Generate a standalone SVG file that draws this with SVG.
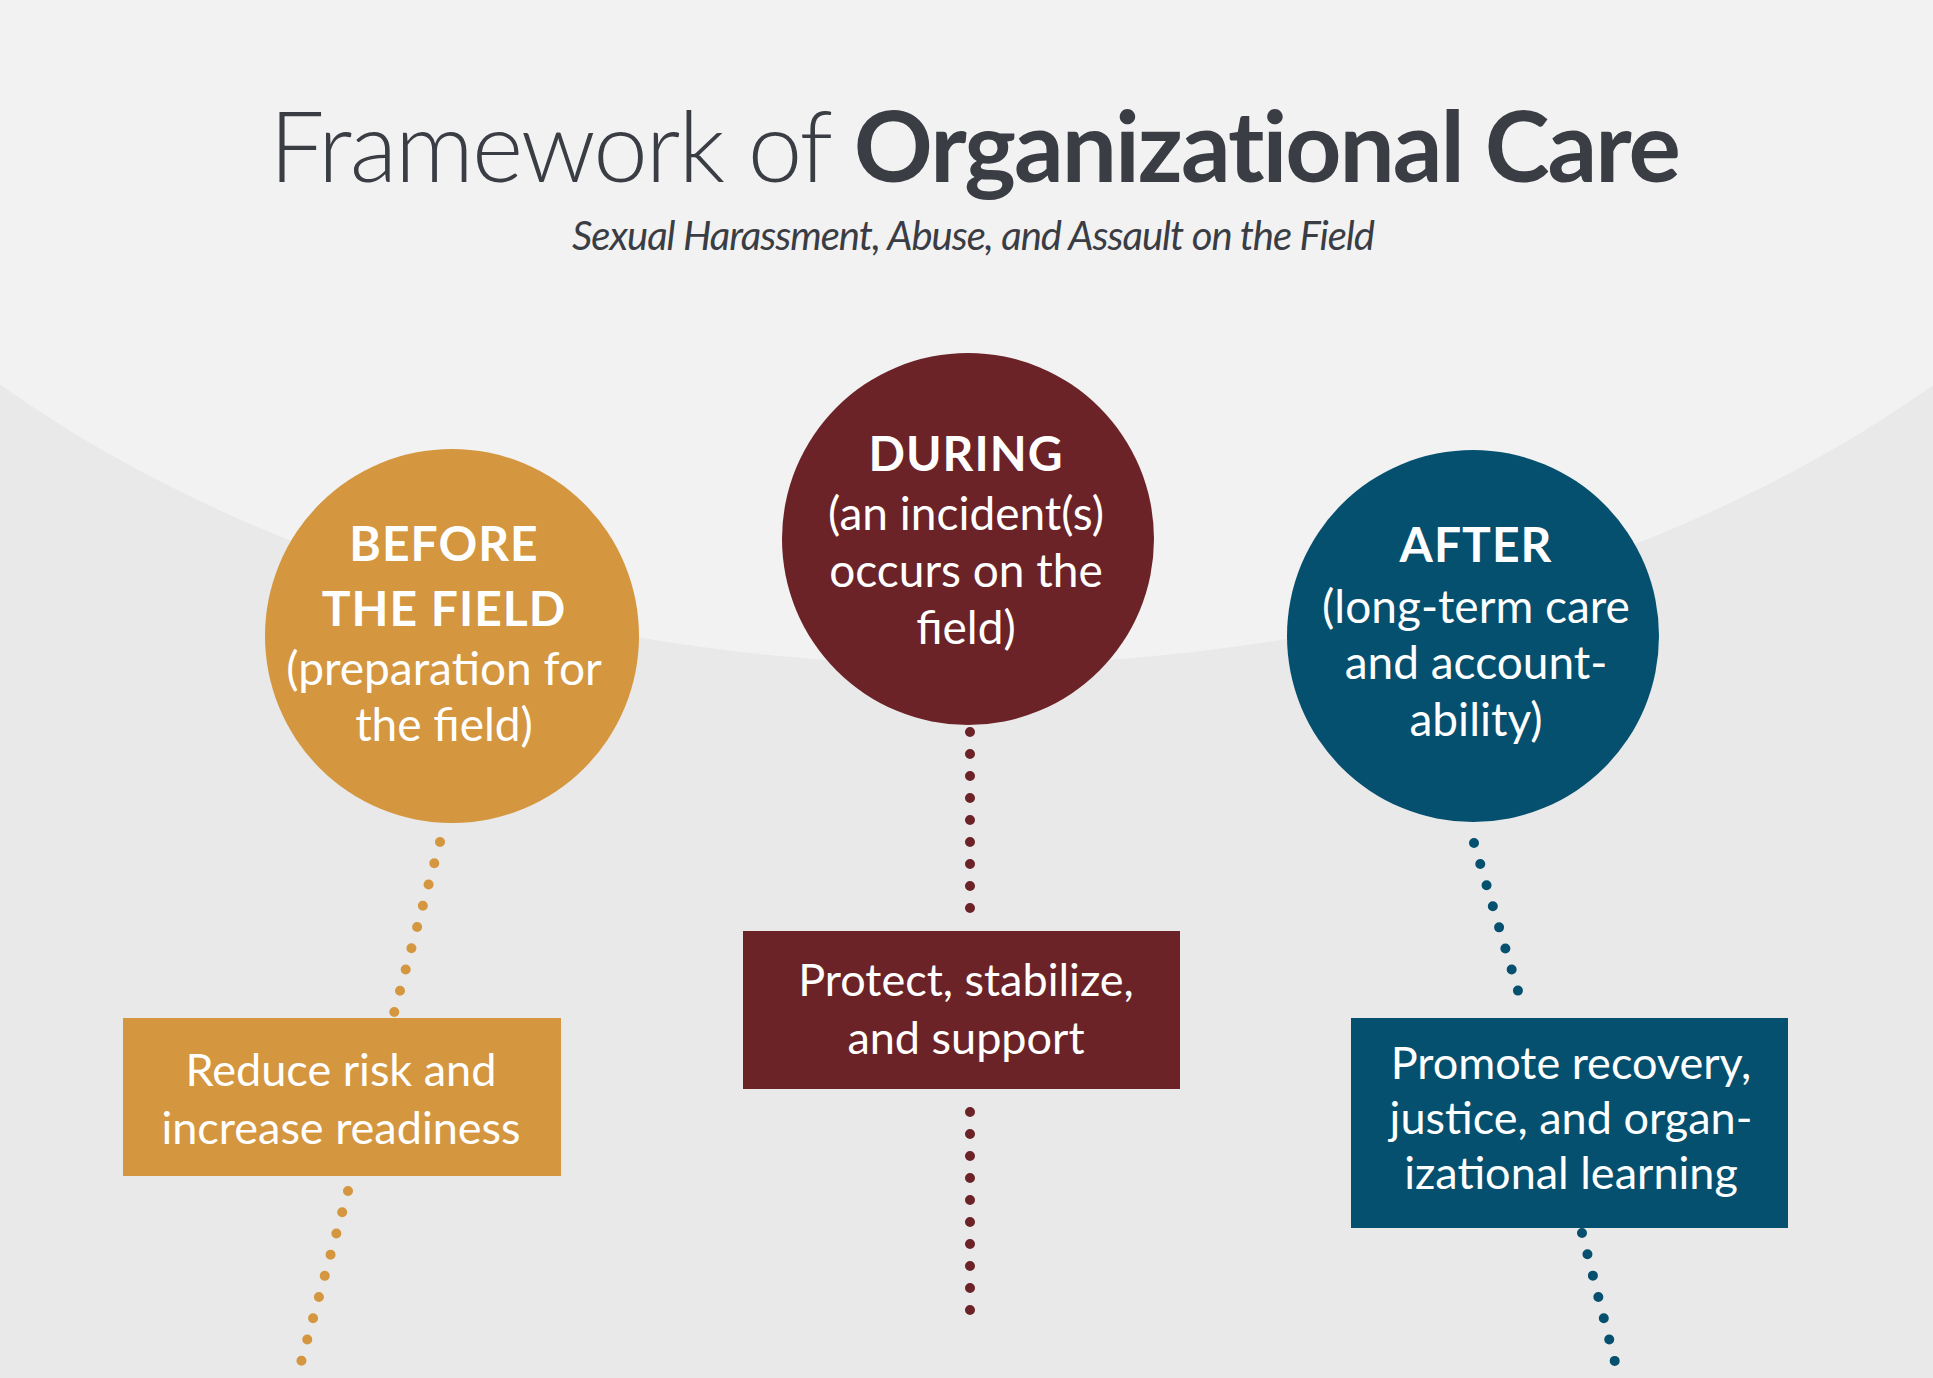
<svg xmlns="http://www.w3.org/2000/svg" width="1933" height="1378" viewBox="0 0 1933 1378">
<style>
text{font-family:Lato,"Open Sans","Liberation Sans",sans-serif;text-anchor:middle}
.w{fill:#fff;font-size:46px}
.b{font-weight:bold;font-size:48px;letter-spacing:1px}
.bx{fill:#fff;font-size:45px}
</style>
<defs>
<radialGradient id="bg" cx="0.5" cy="0" r="0.8"><stop offset="0" stop-color="#f2f2f2"/><stop offset="1" stop-color="#ebebeb"/></radialGradient>
</defs>
<rect width="1933" height="1378" fill="#e9e9e9"/>
<ellipse cx="967" cy="-230" rx="1330" ry="895" fill="#f2f2f2"/>
<text x="974" y="182" font-size="98" fill="#3a3d44" letter-spacing="-2"><tspan font-weight="300">Framework of </tspan><tspan font-weight="bold">Organizational Care</tspan></text>
<text x="973" y="250" font-size="40" font-style="italic" fill="#3a3d44" letter-spacing="-1">Sexual Harassment, Abuse, and Assault on the Field</text>
<g id="connectors" stroke-linecap="round" stroke-width="10" stroke-dasharray="0 22" fill="none">
<path d="M440 842L394 1013M348 1191L300 1366" stroke="#d4963f"/>
<path d="M970 732V915M970 1112V1317" stroke="#6b2328"/>
<path d="M1474 843L1524 1011M1582 1233L1616 1366" stroke="#05506f"/>
</g>
<g id="before"><circle cx="452" cy="636" r="187" fill="#d4963f"/>
<text class="w b" x="444" y="561">BEFORE</text><text class="w b" x="444" y="626">THE FIELD</text>
<text class="w" x="444" y="685">(preparation for</text><text class="w" x="444" y="741">the field)</text></g>
<g id="during"><circle cx="968" cy="539" r="186" fill="#6b2328"/>
<text class="w b" x="966" y="471">DURING</text><text class="w" x="966" y="530">(an incident(s)</text>
<text class="w" x="966" y="587">occurs on the</text><text class="w" x="966" y="644">field)</text></g>
<g id="after"><circle cx="1473" cy="636" r="186" fill="#05506f"/>
<text class="w b" x="1476" y="562">AFTER</text><text class="w" x="1476" y="623">(long-term care</text>
<text class="w" x="1476" y="679">and account-</text><text class="w" x="1476" y="736">ability)</text></g>
<g id="box-before"><rect x="123" y="1018" width="438" height="158" fill="#d4963f"/>
<text class="bx" x="341" y="1086">Reduce risk and</text><text class="bx" x="341" y="1144">increase readiness</text></g>
<g id="box-during"><rect x="743" y="931" width="437" height="158" fill="#6b2328"/>
<text class="bx" x="966" y="996">Protect, stabilize,</text><text class="bx" x="966" y="1054">and support</text></g>
<g id="box-after"><rect x="1351" y="1018" width="437" height="210" fill="#05506f"/>
<text class="bx" x="1571" y="1079">Promote recovery,</text><text class="bx" x="1571" y="1134">justice, and organ-</text><text class="bx" x="1571" y="1189">izational learning</text></g>
</svg>
